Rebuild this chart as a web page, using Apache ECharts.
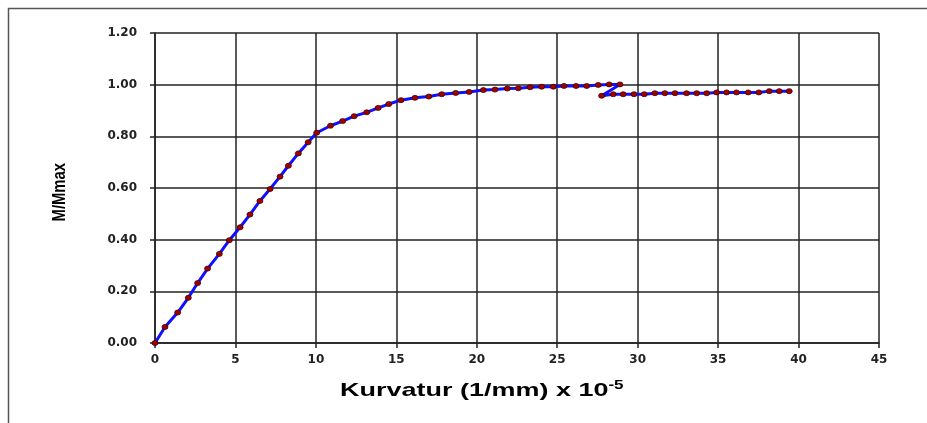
<!DOCTYPE html>
<html><head><meta charset="utf-8">
<script src="https://cdn.jsdelivr.net/npm/echarts@6/dist/echarts.min.js"></script>
<style>html,body{margin:0;padding:0;background:#fff}#c{width:927px;height:423px}</style>
</head><body><div id="c"></div>
<script>
const curvature = [0,0.62,1.41,2.07,2.65,3.27,4.00,4.62,5.29,5.90,6.52,7.15,7.77,8.29,8.91,9.52,10.05,10.91,11.66,12.38,13.16,13.87,14.53,15.29,16.16,17.02,17.82,18.69,19.53,20.41,21.13,21.90,22.58,23.31,24.03,24.76,25.42,26.17,26.83,27.55,28.23,28.90,27.76,28.48,29.10,29.77,30.41,31.07,31.69,32.32,33.04,33.67,34.29,34.91,35.53,36.14,36.87,37.53,38.18,38.80,39.42];
const moment = [0,0.062,0.118,0.175,0.232,0.288,0.345,0.398,0.448,0.497,0.550,0.596,0.644,0.686,0.734,0.777,0.814,0.841,0.859,0.878,0.893,0.910,0.925,0.940,0.949,0.954,0.963,0.968,0.972,0.979,0.981,0.985,0.986,0.990,0.992,0.992,0.995,0.995,0.995,0.999,1.001,1.001,0.957,0.963,0.963,0.963,0.963,0.967,0.967,0.967,0.967,0.967,0.967,0.970,0.970,0.970,0.970,0.970,0.975,0.975,0.975];
const yTicks = [0,0.2,0.4,0.6,0.8,1.0,1.2];
const xTicks = [0,5,10,15,20,25,30,35,40,45];

const chart = echarts.init(document.getElementById('c'));
const pts = curvature.map((x,i)=>[x,moment[i]]);
const lbl = {fontFamily:'DejaVu Sans, sans-serif',fontWeight:'bold',fontSize:12,color:'#222'};
chart.setOption({
  animation:false,
  graphic:[{type:'rect',left:6,top:6,shape:{width:940,height:440},style:{fill:null,stroke:'#555',lineWidth:1.5},silent:true},
    {type:'text',left:340,top:380,scaleX:1.42,style:{text:'{a|Kurvatur (1/mm) x 10}{s|-5}',rich:{a:{fontFamily:'Liberation Sans, Arial, sans-serif',fontWeight:'bold',fontSize:19,color:'#111'},s:{fontFamily:'Liberation Sans, Arial, sans-serif',fontWeight:'bold',fontSize:12,color:'#111',verticalAlign:'top',padding:[0,0,9,0]}}}},
    {type:'text',left:50,top:163,rotation:Math.PI/2,scaleX:0.78,style:{text:'M/Mmax',fontFamily:'Liberation Sans, Arial, sans-serif',fontWeight:'bold',fontSize:19,color:'#111'}}
  ],
  grid:{left:155,right:48,top:33,bottom:80},
  xAxis:{type:'value',min:0,max:45,interval:5,
    axisLine:{lineStyle:{color:'#222',width:1.5}},
    axisTick:{show:true,length:5,lineStyle:{color:'#222',width:1.5}},
    axisLabel:Object.assign({margin:11,formatter:v=>xTicks.includes(v)?String(v):''},lbl),
    splitLine:{show:true,lineStyle:{color:'#222',width:1.5}}},
  yAxis:{type:'value',min:0,max:1.2,interval:0.2,
    axisLine:{show:true,lineStyle:{color:'#222',width:1.5}},
    axisTick:{show:true,length:5,lineStyle:{color:'#222',width:1.5}},
    axisLabel:Object.assign({margin:18,formatter:v=>v.toFixed(2)},lbl),
    splitLine:{show:true,lineStyle:{color:'#222',width:1.5}}},
  series:[{type:'line',data:pts,smooth:false,
    lineStyle:{color:'#1010ff',width:3},
    symbol:'circle',symbolSize:[6,5],
    itemStyle:{color:'#a00000',borderColor:'#400000',borderWidth:0.8}}]
});
</script></body></html>
